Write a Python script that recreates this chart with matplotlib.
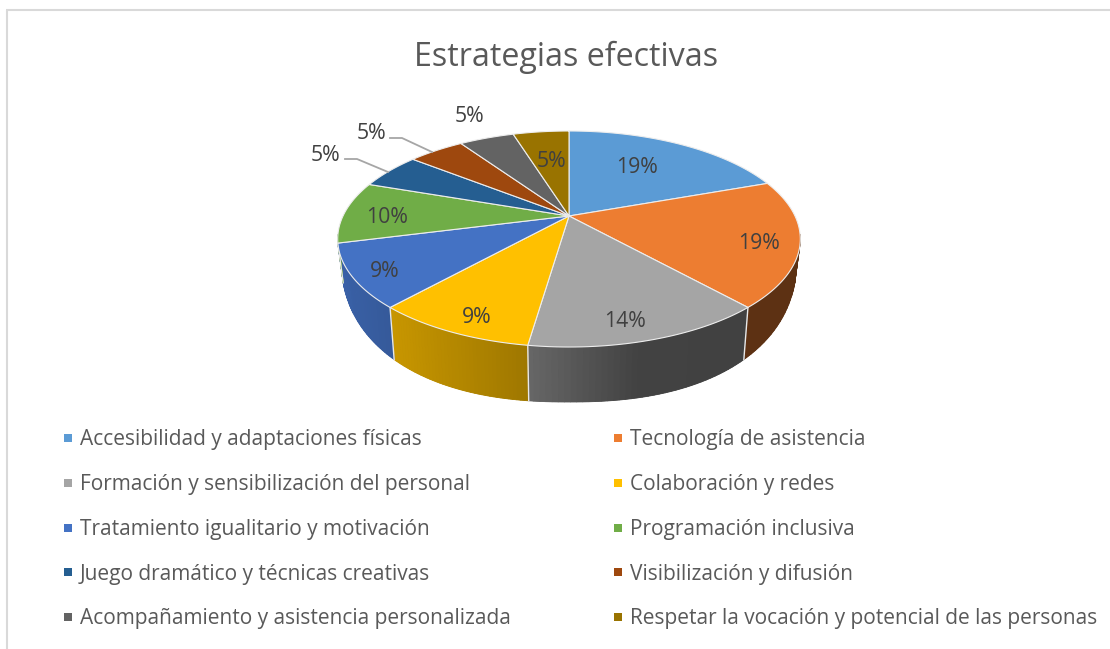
import numpy as np
import matplotlib
matplotlib.use("Agg")
import matplotlib.pyplot as plt
from matplotlib.patches import Polygon, Rectangle

title = "Estrategias efectivas"
categories = ["Accesibilidad y adaptaciones físicas", "Tecnología de asistencia",
              "Formación y sensibilización del personal", "Colaboración y redes",
              "Tratamiento igualitario y motivación", "Programación inclusiva",
              "Juego dramático y técnicas creativas", "Visibilización y difusión",
              "Acompañamiento y asistencia personalizada",
              "Respetar la vocación y potencial de las personas"]
values = [19.5, 18.9, 13.9, 9.3, 9.4, 9.3, 5.4, 4.8, 4.7, 4.8]
value_labels = ["19%", "19%", "14%", "9%", "9%", "10%", "5%", "5%", "5%", "5%"]
colors = ["#5B9BD5", "#ED7D31", "#A5A5A5", "#FFC000", "#4472C4",
          "#70AD47", "#255E91", "#9E480E", "#636363", "#997300"]

# layout (pixels)
label_pos = [(637, 173), (759, 249), (625, 327), (477, 323), (385, 277),
             (387, 223), (325, 161), (371, 139), (469, 122), (551, 167)]
CX, CY, R, K, A = 569.0, 216.0, 226.0, 0.213, -57.1
TEXT = "#595959"
FONT = "Open Sans"


def project(theta):
    """theta clockwise from the top of the pie -> top rim pixels."""
    u, v = np.sin(theta), np.cos(theta)
    w = 1 + K * v
    return CX + R * u / w, (A * v + CY) / w


def lower(x):
    """Bottom rim of the wall below a top rim point."""
    xb = CX + (x - CX) * 0.977
    d = np.clip(np.abs(xb - CX) / 228.0, 0, 1)
    return xb, 255 + 147 * (1 - d ** 2.3) ** (1 / 2.3)


def shade(x):
    return np.interp(x, [340, 393, 528, 640, 801], [0.85, 0.78, 0.62, 0.40, 0.39])


fig = plt.figure(figsize=(11.10, 6.49), dpi=100)
ax = fig.add_axes([0, 0, 1, 1])
ax.set_xlim(0, 1110)
ax.set_ylim(649, 0)
ax.axis("off")

# chart border: only top and left visible
ax.plot([7, 7], [649, 10], color="#D9D9D9", lw=1.5, solid_capstyle="butt")
ax.plot([6, 1110], [10, 10], color="#D9D9D9", lw=1.5, solid_capstyle="butt")

edges = np.cumsum([0] + values) / sum(values) * 2 * np.pi
VIS = -0.17  # the wall shows only on the near side of the widest rim points

# side wall
for i, c in enumerate(colors):
    base = np.array(matplotlib.colors.to_rgb(c))
    t = np.linspace(edges[i], edges[i + 1], 240)
    t = t[np.cos(t) < VIS]
    if len(t) < 2:
        continue
    x, y = project(t)
    xb, yb = lower(x)
    mid = np.clip(base * shade(x.mean()), 0, 1)
    ax.add_patch(Polygon(np.column_stack([np.r_[x, xb[::-1]], np.r_[y, yb[::-1]]]),
                         closed=True, fc=mid, ec="none", zorder=2))
    step = 6
    for j in range(0, len(t) - 1, step):
        k = min(j + step, len(t) - 1)
        col = np.clip(base * shade((x[j] + x[k]) / 2), 0, 1)
        ax.add_patch(Polygon([(x[j], y[j]), (x[k], y[k]), (xb[k], yb[k]), (xb[j], yb[j])],
                             closed=True, fc=col, ec=col, lw=0.6, zorder=2.5))
    if np.cos(edges[i + 1]) < VIS:
        ax.plot([x[-1], xb[-1]], [y[-1], yb[-1]], color="#E8E8E8", lw=1.0, zorder=3)

# top face
for i, c in enumerate(colors):
    t = np.linspace(edges[i], edges[i + 1], 80)
    x, y = project(t)
    pts = np.column_stack([np.r_[CX, x], np.r_[CY, y]])
    ax.add_patch(Polygon(pts, closed=True, fc=c, ec="#EDEDED", lw=0.8,
                         joinstyle="round", zorder=4))

# leader lines
ax.plot([345, 357, 388], [159, 159, 172], color="#A6A6A6", lw=1.3, zorder=5)
ax.plot([390, 402, 432], [138, 138, 152], color="#A6A6A6", lw=1.3, zorder=5)

# value labels
for (px, py), s in zip(label_pos, value_labels):
    ax.text(px, py, s, ha="center", va="baseline", color="#404040",
            fontsize=15.3, family=FONT, zorder=6)

ax.text(566.5, 66, title, ha="center", va="baseline", color=TEXT, fontsize=23.2, family=FONT)

# legend
rows = [438, 482.7, 527.7, 572.3, 617]
for i, name in enumerate(categories):
    r, col = divmod(i, 2)
    mx = 64 if col == 0 else 614
    ax.add_patch(Rectangle((mx, rows[r] - 4), 8, 8, fc=colors[i], ec="none"))
    ax.text(mx + 16, rows[r] + 7.3, name, ha="left", va="baseline", color=TEXT,
            fontsize=15.0, family=FONT)

fig.savefig("out.png", dpi=100)
